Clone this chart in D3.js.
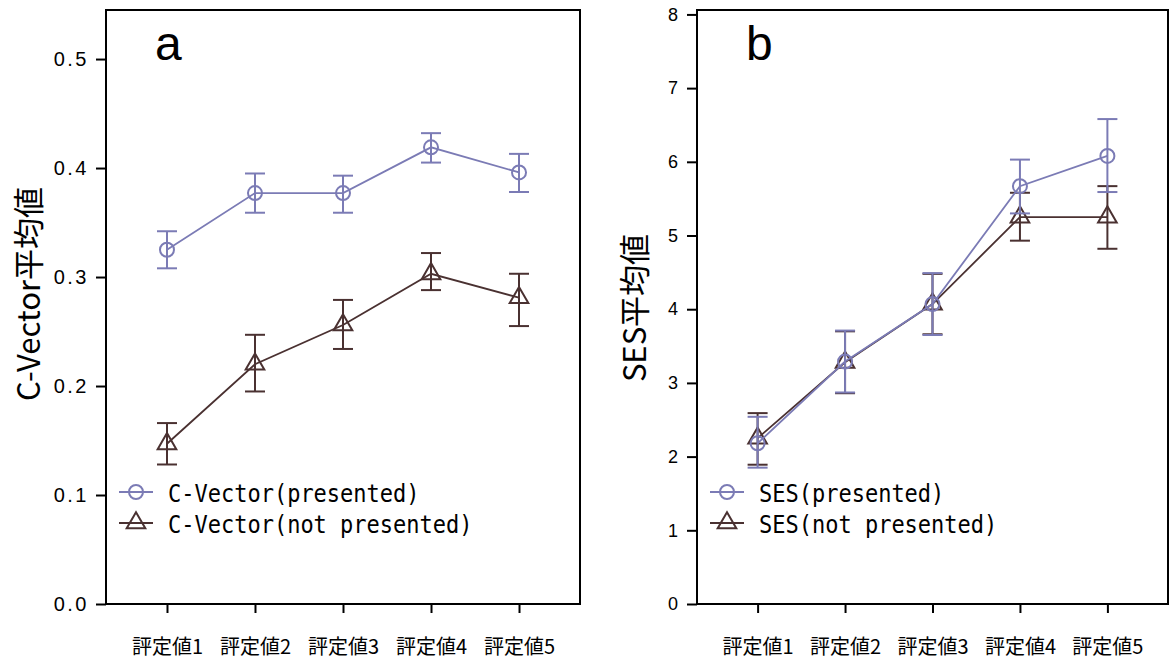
<!DOCTYPE html>
<html lang="ja">
  <head>
    <meta charset="UTF-8" />
    <title>C-Vector / SES 平均値</title>
    <script src="https://cdnjs.cloudflare.com/ajax/libs/d3/7.8.5/d3.min.js"></script>
    <style>
      body {
        margin: 0;
        background: #fff;
      }
      .frame {
        fill: none;
        stroke: #000;
        stroke-width: 2px;
      }
      .axis path.domain {
        display: none;
      }
      .axis line {
        stroke: #000;
        stroke-width: 2px;
      }
      .xlab text {
        font-family: "Noto Sans CJK JP", sans-serif;
        font-size: 20px;
        fill: #000;
      }
      .ylab-mono text {
        font-family: "Liberation Sans", Arial, sans-serif;
        font-size: 20px;
        letter-spacing: 2.5px;
        fill: #000;
      }
      .ylab-sans text {
        font-family: "Liberation Sans", Arial, sans-serif;
        font-size: 18px;
        fill: #000;
      }
      .ytitle {
        font-family: "Noto Sans CJK JP", sans-serif;
        font-size: 31px;
      }
      .panel-letter {
        font-family: "Liberation Sans", Arial, sans-serif;
        font-size: 48px;
      }
      .legend text {
        font-family: "DejaVu Sans Mono", monospace;
        font-size: 22px;
      }
    </style>
  </head>
  <body>
    <svg width="1170" height="660"></svg>
    <script>
      // カテゴリ
      var categories = ["評定値1", "評定値2", "評定値3", "評定値4", "評定値5"];

      // a: C-Vector
      var cvPresented = [0.325, 0.377, 0.377, 0.419, 0.396];
      var cvPresentedHi = [0.342, 0.395, 0.393, 0.432, 0.413];
      var cvPresentedLo = [0.308, 0.359, 0.359, 0.405, 0.378];
      var cvNot = [0.147, 0.220, 0.256, 0.303, 0.281];
      var cvNotHi = [0.166, 0.247, 0.279, 0.322, 0.303];
      var cvNotLo = [0.128, 0.195, 0.234, 0.288, 0.255];
      var cvTicks = [0, 0.1, 0.2, 0.3, 0.4, 0.5];

      // b: SES
      var sesPresented = [2.18, 3.29, 4.07, 5.67, 6.08];
      var sesPresentedHi = [2.54, 3.71, 4.49, 6.03, 6.58];
      var sesPresentedLo = [1.85, 2.87, 3.65, 5.30, 5.59];
      var sesNot = [2.25, 3.28, 4.07, 5.25, 5.25];
      var sesNotHi = [2.59, 3.70, 4.48, 5.58, 5.67];
      var sesNotLo = [1.89, 2.86, 3.66, 4.93, 4.82];
      var sesTicks = [0, 1, 2, 3, 4, 5, 6, 7, 8];

      var purple = "#7b7bb5";
      var brown = "#4a3131";

      var svg = d3.select("svg");

      function series(vals, hi, lo) {
        return vals.map((v, i) => ({ cat: categories[i], v: v, hi: hi[i], lo: lo[i] }));
      }

      function drawPanel(opt) {
        var g = svg.append("g");
        var x = d3
          .scalePoint()
          .domain(categories)
          .range([opt.left, opt.right])
          .padding(0.693);
        var y = d3.scaleLinear().domain(opt.ydomain).range([604, 10]);

        // y 軸
        g.append("g")
          .attr("class", "axis " + opt.ylabClass)
          .attr("transform", "translate(" + opt.left + ",0)")
          .call(
            d3
              .axisLeft(y)
              .tickValues(opt.ticks)
              .tickFormat(opt.fmt)
              .tickSize(10)
              .tickSizeOuter(0)
              .tickPadding(opt.tickPad)
          );

        // x 軸
        var xa = g
          .append("g")
          .attr("class", "axis xlab")
          .attr("transform", "translate(0,604)")
          .call(d3.axisBottom(x).tickSize(9).tickSizeOuter(0));
        xa.selectAll("text").attr("y", 50).attr("dy", 0);

        g.append("rect")
          .attr("class", "frame")
          .attr("x", opt.left)
          .attr("y", 10)
          .attr("width", opt.right - opt.left)
          .attr("height", 594);

        // y 軸タイトル
        g.append("text")
          .attr("class", "ytitle")
          .attr("transform", "translate(" + opt.titleX + "," + opt.titleY + ") rotate(-90)")
          .attr("text-anchor", "middle")
          .text(opt.title);

        g.append("text")
          .attr("class", "panel-letter")
          .attr("x", opt.left + 49)
          .attr("y", 60)
          .text(opt.letter);

        var line = d3
          .line()
          .x(d => x(d.cat))
          .y(d => y(d.v));

        opt.series.forEach(s => {
          var sg = g.append("g").attr("stroke", s.color).attr("fill", "none");
          sg.append("path")
            .datum(s.data)
            .attr("d", line)
            .attr("stroke-width", 1.8);
          var eb = sg
            .selectAll(".eb")
            .data(s.data)
            .join("g")
            .attr("stroke-width", 2);
          eb.append("line")
            .attr("x1", d => x(d.cat))
            .attr("x2", d => x(d.cat))
            .attr("y1", d => y(d.hi))
            .attr("y2", d => y(d.lo));
          eb.append("line")
            .attr("x1", d => x(d.cat) - 10)
            .attr("x2", d => x(d.cat) + 10)
            .attr("y1", d => y(d.hi))
            .attr("y2", d => y(d.hi));
          eb.append("line")
            .attr("x1", d => x(d.cat) - 10)
            .attr("x2", d => x(d.cat) + 10)
            .attr("y1", d => y(d.lo))
            .attr("y2", d => y(d.lo));
          sg.selectAll(".mk")
            .data(s.data)
            .join("path")
            .attr("stroke-width", 2)
            .attr("d", d3.symbol(s.symbol, s.size))
            .attr("transform", d => "translate(" + x(d.cat) + "," + y(d.v) + ")");
        });

        // 凡例
        var lg = g.append("g").attr("class", "legend");
        opt.legend.forEach((s, i) => {
          var cy = 492 + i * 31;
          var cx = opt.left + 30;
          lg.append("line")
            .attr("x1", cx - 17)
            .attr("x2", cx + 17)
            .attr("y1", cy)
            .attr("y2", cy)
            .attr("stroke", s.color)
            .attr("stroke-width", 1.8);
          lg.append("path")
            .attr("d", d3.symbol(s.symbol, s.size))
            .attr("transform", "translate(" + cx + "," + cy + ")")
            .attr("fill", "none")
            .attr("stroke", s.color)
            .attr("stroke-width", 2);
          // 縦長の字形に寄せる
          lg.append("text")
            .attr("transform", "translate(" + (opt.left + 62) + "," + (cy + 10) + ") scale(1,1.16)")
            .text(s.label);
        });
      }

      var circ = { symbol: d3.symbolCircle, size: 154 };
      var tri = { symbol: d3.symbolTriangle, size: 150 };

      var aSeries = [
        Object.assign({ color: brown, data: series(cvNot, cvNotHi, cvNotLo), label: "C-Vector(not presented)" }, tri),
        Object.assign({ color: purple, data: series(cvPresented, cvPresentedHi, cvPresentedLo), label: "C-Vector(presented)" }, circ)
      ];
      drawPanel({
        left: 106,
        right: 580,
        ydomain: [0, 0.545],
        ticks: cvTicks,
        fmt: d3.format(".1f"),
        ylabClass: "ylab-mono",
        tickPad: 7,
        title: "C-Vector平均値",
        titleX: 40,
        titleY: 294,
        letter: "a",
        series: aSeries,
        legend: [aSeries[1], aSeries[0]]
      });

      var bSeries = [
        Object.assign({ color: brown, data: series(sesNot, sesNotHi, sesNotLo), label: "SES(not presented)" }, tri),
        Object.assign({ color: purple, data: series(sesPresented, sesPresentedHi, sesPresentedLo), label: "SES(presented)" }, circ)
      ];
      drawPanel({
        left: 697,
        right: 1168,
        ydomain: [0, 8.06],
        ticks: sesTicks,
        fmt: d3.format("d"),
        ylabClass: "ylab-sans",
        tickPad: 9,
        title: "SES平均値",
        titleX: 646,
        titleY: 308,
        letter: "b",
        series: bSeries,
        legend: [bSeries[1], bSeries[0]]
      });
    </script>
  </body>
</html>
